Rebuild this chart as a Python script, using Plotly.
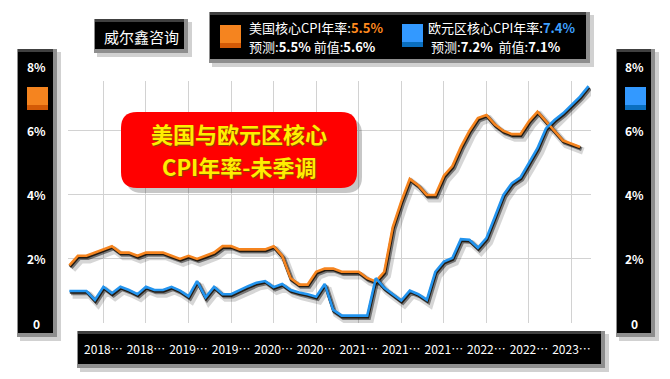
import plotly.graph_objects as go

W, H = 670, 379

# ---------------- data ----------------
us_core = [1.8, 2.1, 2.1, 2.2, 2.3, 2.4, 2.2, 2.2, 2.1, 2.2,
           2.2, 2.2, 2.1, 2.0, 2.1, 2.0, 2.1, 2.2, 2.4, 2.4,
           2.3, 2.3, 2.3, 2.3, 2.4, 2.1, 1.4, 1.2, 1.2, 1.6,
           1.7, 1.7, 1.6, 1.6, 1.6, 1.4, 1.3, 1.6, 3.0, 3.8,
           4.5, 4.3, 4.0, 4.0, 4.6, 4.9, 5.5, 6.0, 6.4, 6.5,
           6.2, 6.0, 5.9, 5.9, 6.3, 6.6, 6.3, 6.0, 5.7, 5.6,
           5.5]
ez_core = [1.0, 1.0, 1.0, 0.72, 1.13, 0.93, 1.13, 1.03, 0.9, 1.13,
           1.03, 1.03, 1.13, 1.01, 0.83, 1.31, 0.8, 1.13, 0.9, 0.9,
           1.03, 1.15, 1.26, 1.31, 1.12, 1.22, 1.03, 0.95, 0.9, 0.82,
           1.22, 0.41, 0.23, 0.23, 0.23, 0.23, 1.4, 1.1, 0.9, 0.7,
           1.01, 0.9, 0.72, 1.6, 1.92, 2.03, 2.62, 2.6, 2.35, 2.65,
           3.32, 4.0, 4.37, 4.55, 5.0, 5.46, 6.08, 6.34, 6.55, 6.81,
           7.07, 7.4]
x_us = list(range(len(us_core)))
x_ez = list(range(len(ez_core)))

x_tick_pos = [4, 9, 14, 19, 24, 29, 34, 39, 44, 49, 54, 59]
x_tick_labels = ["2018…", "2018…", "2019…", "2019…", "2020…", "2020…",
                 "2021…", "2021…", "2021…", "2022…", "2022…", "2023…"]
y_tick_vals = [0, 2, 4, 6, 8]
y_tick_labels = ["0", "2%", "4%", "6%", "8%"]

us_name, us_latest, us_forecast, us_prev = "美国核心CPI年率", "5.5%", "5.5%", "5.6%"
ez_name, ez_latest, ez_forecast, ez_prev = "欧元区核心CPI年率", "7.4%", "7.2%", "7.1%"
title_lines = ["美国与欧元区核心", "CPI年率-未季调"]
brand = "威尔鑫咨询"

ORANGE = "#f5841f"
BLUE = "#2394ee"
FONT = "Noto Sans CJK SC"

# ---------------- layout geometry (screen pixels) ----------------
OFF = 8                      # page body margin
PL, PR, PT, PB = 68, 591, 81, 323
YMAX = 7.56
XR = [-0.16, 61.29]


def px(x):
    return (x - OFF) / W


def py(y):
    return 1 - (y - OFF) / H


def yval_px(v):
    return PB - v * (PB - PT) / YMAX


fig = go.Figure()

# shadows
for xs, ys in ((x_us, us_core), (x_ez, ez_core)):
    fig.add_trace(go.Scatter(x=[v + 0.38 for v in xs], y=[v - 0.13 for v in ys],
                             mode="lines", line=dict(color="rgba(0,0,0,0.16)", width=7),
                             hoverinfo="skip", showlegend=False))
for xs, ys in ((x_us, us_core), (x_ez, ez_core)):
    fig.add_trace(go.Scatter(x=[v + 0.2 for v in xs], y=[v - 0.07 for v in ys],
                             mode="lines", line=dict(color="rgba(0,0,0,0.45)", width=4),
                             hoverinfo="skip", showlegend=False))
for xs, ys in ((x_us, us_core), (x_ez, ez_core)):
    fig.add_trace(go.Scatter(x=[v + 0.06 for v in xs], y=[v - 0.04 for v in ys],
                             mode="lines", line=dict(color="rgba(20,10,0,0.85)", width=3),
                             hoverinfo="skip", showlegend=False))

fig.add_trace(go.Scatter(x=x_us, y=us_core, mode="lines", name=us_name,
                         line=dict(color=ORANGE, width=2.6), showlegend=False))
fig.add_trace(go.Scatter(x=x_ez, y=ez_core, mode="lines", name=ez_name,
                         line=dict(color=BLUE, width=2.6), showlegend=False))

shapes = []


def rect(x0, y0, x1, y1, color, layer="below"):
    shapes.append(dict(type="rect", xref="paper", yref="paper",
                       x0=px(x0), x1=px(x1), y0=py(y1), y1=py(y0),
                       fillcolor=color, line=dict(width=0), layer=layer))


def bevel_box(x0, y0, x1, y1):
    rect(x0 + 2, y0 + 3, x1 + 4, y1 + 4, "rgba(0,0,0,0.18)")
    rect(x0 - 1, y0, x1, y1, "#8e8e8e")
    rect(x0, y0, x1 - 4, y0 + 3, "#404040")
    rect(x0, y0 + 3, x1 - 4, y1 - 4, "#000000")


bevel_box(18, 49, 57, 337)     # left axis box
bevel_box(617, 49, 655, 337)   # right axis box
bevel_box(78, 331, 605, 368)   # bottom axis box
bevel_box(95, 19, 188, 53)     # brand box
bevel_box(210, 12, 590, 63)    # legend box

# legend squares
rect(27, 87, 48, 110, ORANGE)
rect(27, 105, 48, 110, "#d45a06")
rect(625, 87, 646, 110, "#3399ff")
rect(625, 105, 646, 110, "#0a6fc0")
rect(220, 25, 241, 48, ORANGE)
rect(220, 43, 241, 48, "#d45a06")
rect(402, 24, 423, 47, "#3399ff")
rect(402, 42, 423, 47, "#0a6fc0")


def rounded(x0, y0, x1, y1, r):
    X = px
    Y = py
    return (f"M {X(x0 + r)} {Y(y0)} L {X(x1 - r)} {Y(y0)} "
            f"Q {X(x1)} {Y(y0)} {X(x1)} {Y(y0 + r)} L {X(x1)} {Y(y1 - r)} "
            f"Q {X(x1)} {Y(y1)} {X(x1 - r)} {Y(y1)} L {X(x0 + r)} {Y(y1)} "
            f"Q {X(x0)} {Y(y1)} {X(x0)} {Y(y1 - r)} L {X(x0)} {Y(y0 + r)} "
            f"Q {X(x0)} {Y(y0)} {X(x0 + r)} {Y(y0)} Z")


shapes.append(dict(type="path", xref="paper", yref="paper", layer="above",
                   path=rounded(126, 118, 362, 193, 16),
                   fillcolor="rgba(0,0,0,0.22)", line=dict(width=0)))
shapes.append(dict(type="path", xref="paper", yref="paper", layer="above",
                   path=rounded(121, 112, 357, 188, 16),
                   fillcolor="#ff0000", line=dict(width=0)))

ann = []
# y-axis labels in side boxes
for v, t in zip(y_tick_vals, y_tick_labels):
    for cx in (36, 634):
        ann.append(dict(x=px(cx), y=py(yval_px(v)), xref="paper", yref="paper",
                        text=f"<b>{t}</b>", showarrow=False,
                        font=dict(family=FONT, size=12, color="white"),
                        xanchor="center", yanchor="middle"))

ann.append(dict(x=px(141), y=py(36), xref="paper", yref="paper", text=brand,
                showarrow=False, font=dict(family=FONT, size=15, color="white"),
                xanchor="center", yanchor="middle"))

LEG_FONT = dict(family=FONT, size=13, color="white")
ann.append(dict(x=px(247), y=py(27), xref="paper", yref="paper",
                text=f"{us_name}:<b><span style='color:#ff8a1e'>{us_latest}</span></b>",
                showarrow=False, font=LEG_FONT, xanchor="left", yanchor="middle"))
ann.append(dict(x=px(247), y=py(46.5), xref="paper", yref="paper",
                text=f"预测:<b>{us_forecast}</b> 前值:<b>{us_prev}</b>",
                showarrow=False, font=LEG_FONT, xanchor="left", yanchor="middle"))
ann.append(dict(x=px(426), y=py(27), xref="paper", yref="paper",
                text=f"{ez_name}:<b><span style='color:#3fa0ff'>{ez_latest}</span></b>",
                showarrow=False, font=LEG_FONT, xanchor="left", yanchor="middle"))
ann.append(dict(x=px(429), y=py(46.5), xref="paper", yref="paper",
                text=f"预测:<b>{ez_forecast}</b>  前值:<b>{ez_prev}</b>",
                showarrow=False, font=LEG_FONT, xanchor="left", yanchor="middle"))

for line, cy in zip(title_lines, (133, 166)):
    ann.append(dict(x=px(239), y=py(cy), xref="paper", yref="paper",
                    text=line, showarrow=False,
                    font=dict(family=FONT, size=22, color="#ffee00",
                              shadow="1px 1px 1px #7a5200", weight="bold"),
                    xanchor="center", yanchor="middle"))

fig.update_layout(
    width=W, height=H,
    margin=dict(l=0, r=0, t=0, b=0),
    paper_bgcolor="white", plot_bgcolor="white",
    shapes=shapes, annotations=ann, showlegend=False,
    xaxis=dict(domain=[px(PL), px(PR)], range=XR, tickmode="array",
               tickvals=x_tick_pos, ticktext=x_tick_labels,
               showgrid=True, gridcolor="#d2d2d2", gridwidth=1,
               zeroline=False, showline=False, ticks="",
               tickfont=dict(family=FONT, size=12, color="white"),
               ticklabelstandoff=18),
    yaxis=dict(domain=[py(PB), py(PT)], range=[0, YMAX], dtick=2,
               showgrid=True, gridcolor="#d2d2d2", gridwidth=1,
               zeroline=False, showline=False, showticklabels=False, ticks=""),
)

fig.write_html("out.html")
